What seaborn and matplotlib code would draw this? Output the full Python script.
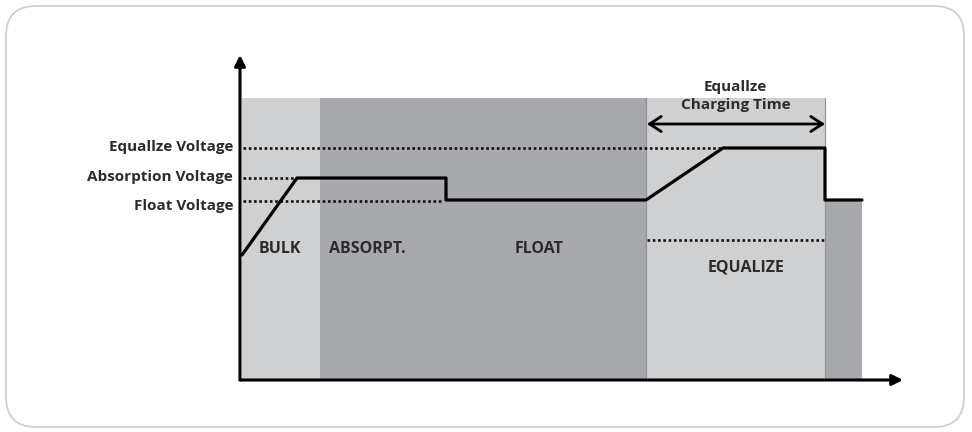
import matplotlib.pyplot as plt
import seaborn as sns
from matplotlib.patches import FancyBboxPatch

# charge phases (time in arbitrary units, 0 = origin)
phase_names = ["BULK", "ABSORPT.", "FLOAT", "EQUALIZE", ""]
phase_start = [2, 80, 206, 406, 585]
phase_end = [80, 206, 406, 585, 622]
phase_tone = ["light", "dark", "dark", "light", "dark"]
phase_top = [282, 282, 282, 282, 180]

# phase labels (centre of text)
label_t = [40, 127, 299, 506]
label_v = [131, 131, 131, 112]

# charging voltage profile
curve_t = [2, 57, 206, 206, 406, 483, 585, 585, 622]
curve_v = [125, 202, 202, 180, 180, 232, 232, 180, 180]

# reference voltage levels (dotted)
level_names = ["Equallze Voltage", "Absorption Voltage", "Float Voltage"]
level_v = [232, 202, 179]
level_end = [483, 57, 203]
level_text_v = [233, 203, 174]
eq_low_v = 140  # lower dotted line inside the equalize window

x_end, y_end = 663, 325

sns.set_theme(style="white")
plt.rcParams["font.family"] = ["Open Sans", "DejaVu Sans"]

fig = plt.figure(figsize=(9.72, 4.32), dpi=100)
ax = fig.add_axes([0, 0, 1, 1])
ax.set_xlim(-240, 732)
ax.set_ylim(-52, 380)
ax.set_axis_off()

light, dark = "#cfd0d2", "#a8a9ac"
txt = "#2b2b2b"

# outer rounded frame
ax.add_patch(FancyBboxPatch((-234, -47), 958, 421,
                            boxstyle="round,pad=0,rounding_size=30",
                            fc="white", ec="#cfcfcf", lw=1.3, zorder=0))

# shaded phases
for s, e, top, tone in zip(phase_start, phase_end, phase_top, phase_tone):
    ax.bar(s, top, width=e - s, align="edge",
           color=light if tone == "light" else dark, lw=0, zorder=1)
for xs in [phase_start[3], phase_end[3]]:
    ax.plot([xs, xs], [0, phase_top[3]], color="#8f9093", lw=0.8, zorder=2)

for name, t, v in zip(phase_names, label_t, label_v):
    ax.text(t, v, name, ha="center", va="center", fontsize=11.5,
            fontweight="bold", color=txt, zorder=5)

# dotted voltage levels
dots = (0, (1, 1))
for name, v, e, tv in zip(level_names, level_v, level_end, level_text_v):
    sns.lineplot(x=[3, e], y=[v, v], ax=ax, color="#111111", lw=1.9,
                 linestyle=dots, zorder=3)
    ax.text(-7, tv, name, ha="right", va="center", fontsize=11,
            fontweight="bold", color=txt)
sns.lineplot(x=[phase_start[3] + 1, phase_end[3]], y=[eq_low_v, eq_low_v],
             ax=ax, color="#111111", lw=1.9, linestyle=dots, zorder=3)

# charging profile
sns.lineplot(x=curve_t, y=curve_v, ax=ax, sort=False, estimator=None,
             color="black", lw=2.3, zorder=4)

# axes arrows
ax.annotate("", xy=(x_end, 0), xytext=(0, 0),
            arrowprops=dict(arrowstyle="-|>", color="black", lw=2.2,
                            mutation_scale=16, shrinkA=0, shrinkB=0), zorder=6)
ax.annotate("", xy=(0, y_end), xytext=(0, 0),
            arrowprops=dict(arrowstyle="-|>", color="black", lw=2.2,
                            mutation_scale=16, shrinkA=0, shrinkB=0), zorder=6)

# equalize charging time span
ax.annotate("", xy=(phase_end[3], 256), xytext=(phase_start[3] + 1, 256),
            arrowprops=dict(arrowstyle="<->,head_length=0.7,head_width=0.45",
                            color="black", lw=2.0, shrinkA=0, shrinkB=0), zorder=6)
ax.text((phase_start[3] + phase_end[3]) / 2, 293, "Equallze", ha="center",
        va="center", fontsize=11, fontweight="bold", color=txt)
ax.text((phase_start[3] + phase_end[3]) / 2, 275, "Charging Time", ha="center",
        va="center", fontsize=11, fontweight="bold", color=txt)

fig.savefig("out.png", dpi=100)
